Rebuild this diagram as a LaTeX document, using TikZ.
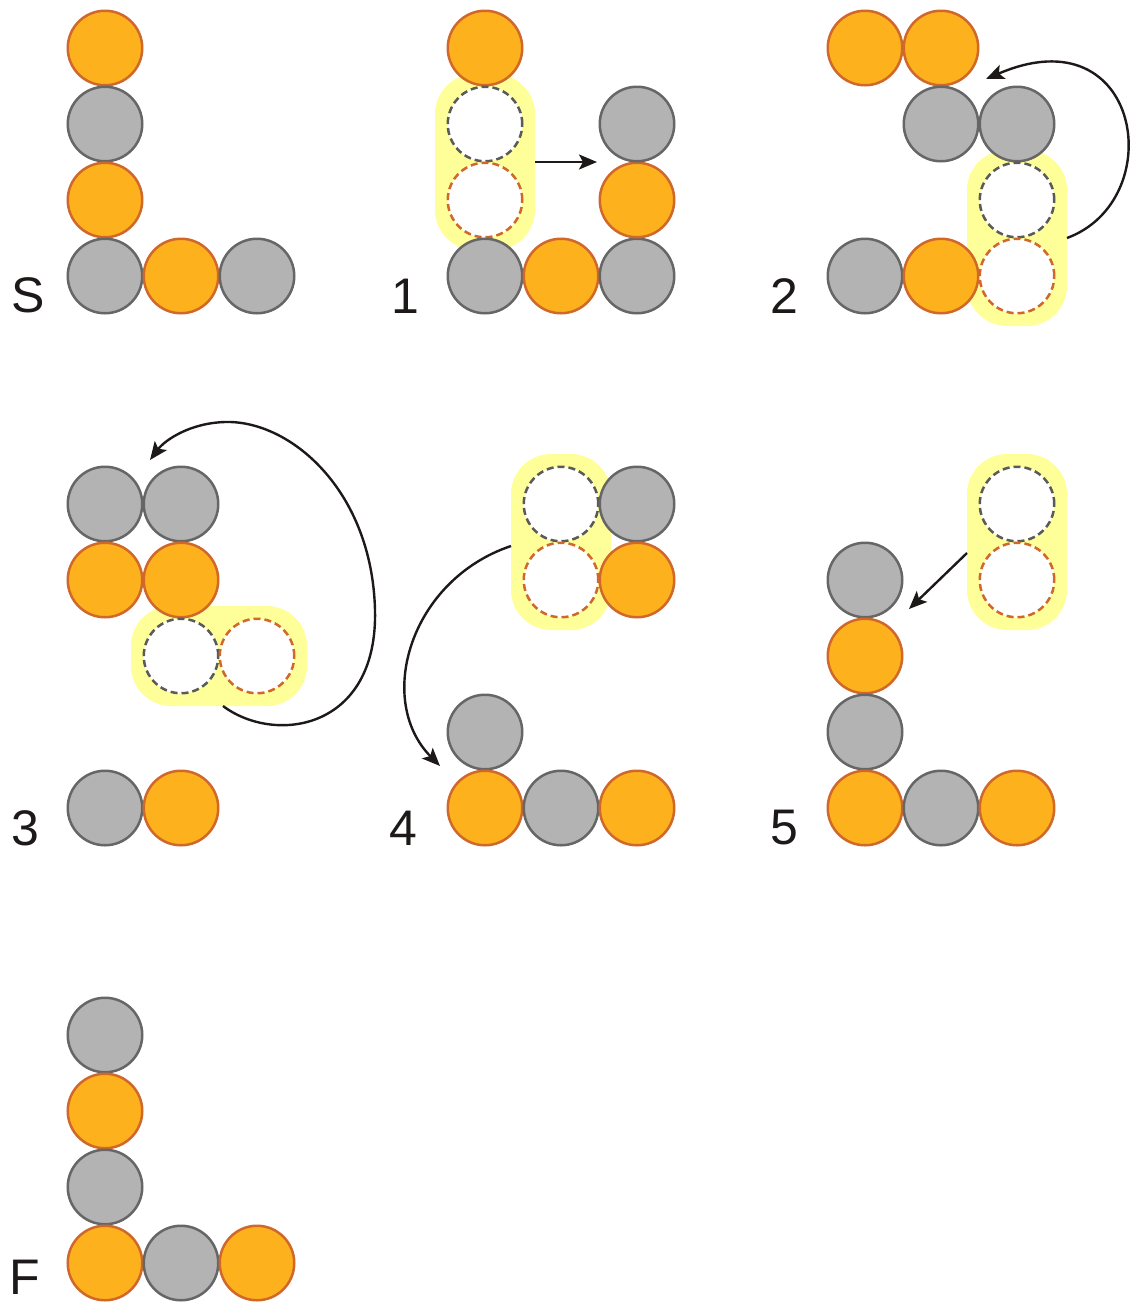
\documentclass[tikz,border=0pt]{standalone}
\usepackage{fontspec}
\setmainfont{Liberation Sans}
\usetikzlibrary{arrows.meta}
\definecolor{orfill}{RGB}{253,177,29}
\definecolor{orline}{RGB}{207,104,42}
\definecolor{gyfill}{RGB}{179,179,179}
\definecolor{gyline}{RGB}{102,102,102}
\definecolor{dgline}{RGB}{90,90,90}
\definecolor{hly}{RGB}{255,255,153}
\definecolor{ink}{RGB}{30,25,25}
\begin{document}
\begin{tikzpicture}[x=1pt,y=-1pt,
  ball/.style={circle, minimum size=74.5pt, inner sep=0pt, outer sep=0pt, line width=2.5pt},
  og/.style={ball, fill=orfill, draw=orline},
  gy/.style={ball, fill=gyfill, draw=gyline},
  gyd/.style={ball, fill=white, draw=dgline, dash pattern=on 7pt off 4pt},
  ogd/.style={ball, fill=white, draw=orline, dash pattern=on 7pt off 4pt},
  hl/.style={rectangle, fill=hly, rounded corners=40pt, inner sep=0pt, outer sep=0pt},
  hlv/.style={hl, minimum width=100pt, minimum height=176pt},
  hlh/.style={hl, minimum width=176pt, minimum height=100pt},
  arr/.style={-{Stealth[length=18pt,width=15pt,inset=4pt]}, line width=2.4pt, draw=ink},
  lbl/.style={font=\fontsize{50}{60}\selectfont, inner sep=0pt, text=ink}]
\useasboundingbox (0,0) rectangle (1134,1302);

% ---------- highlights ----------
\node[hlv] (h1) at (485,162) {};
\node[hlv] (h2) at (1017,238) {};
\node[hlh] (h3) at (219,656) {};
\node[hlv] (h4) at (561,542) {};
\node[hlv] (h5) at (1017,542) {};

% ---------- panel S ----------
\node[lbl] (lS) at (28,295) {S};
\node[og] (s1) at (105,48) {};
\node[gy] (s2) at (105,124) {};
\node[og] (s3) at (105,200) {};
\node[gy] (s4) at (105,276) {};
\node[og] (s5) at (181,276) {};
\node[gy] (s6) at (257,276) {};

% ---------- panel 1 ----------
\node[lbl] (l1) at (405,296) {1};
\node[og] (a1) at (485,48) {};
\node[gyd] (a2) at (485,124) {};
\node[ogd] (a3) at (485,200) {};
\node[gy] (a4) at (485,276) {};
\node[og] (a5) at (561,276) {};
\node[gy] (a6) at (637,276) {};
\node[og] (a7) at (637,200) {};
\node[gy] (a8) at (637,124) {};
\coordinate (e1) at (597,162);
\draw[arr] (h1.east |- e1) -- (e1);

% ---------- panel 2 ----------
\node[lbl] (l2) at (784,296) {2};
\node[og] (b1) at (865,48) {};
\node[og] (b2) at (941,48) {};
\node[gy] (b3) at (941,124) {};
\node[gy] (b4) at (1017,124) {};
\node[gyd] (b5) at (1017,200) {};
\node[ogd] (b6) at (1017,276) {};
\node[gy] (b7) at (865,276) {};
\node[og] (b8) at (941,276) {};
\coordinate (e2) at (986,79);
\draw[arr] (h2.east) .. controls (1170,200) and (1142,12) .. (e2);

% ---------- panel 3 ----------
\node[lbl] (l3) at (25,828) {3};
\node[gy] (c1) at (105,504) {};
\node[gy] (c2) at (181,504) {};
\node[og] (c3) at (105,580) {};
\node[og] (c4) at (181,580) {};
\node[gyd] (c5) at (181,656) {};
\node[ogd] (c6) at (257,656) {};
\node[gy] (c7) at (105,808) {};
\node[og] (c8) at (181,808) {};
\coordinate (e3) at (150,460);
\draw[arr] ([xshift=4pt]h3.south) .. controls (275,745) and (378,730) .. (375,610)
  .. controls (372,490) and (290,420) .. (225,422)
  .. controls (190,423) and (165,440) .. (e3);

% ---------- panel 4 ----------
\node[lbl] (l4) at (403,828) {4};
\node[gyd] (d1) at (561,504) {};
\node[ogd] (d2) at (561,580) {};
\node[gy] (d3) at (637,504) {};
\node[og] (d4) at (637,580) {};
\node[gy] (d5) at (485,732) {};
\node[og] (d6) at (485,808) {};
\node[gy] (d7) at (561,808) {};
\node[og] (d8) at (637,808) {};
\coordinate (e4) at (440,766);
\draw[arr] ([yshift=-4pt]h4.west) .. controls (410,580) and (375,700) .. (e4);

% ---------- panel 5 ----------
\node[lbl] (l5) at (784,828) {5};
\node[gyd] (f1) at (1017,504) {};
\node[ogd] (f2) at (1017,580) {};
\node[gy] (f3) at (865,580) {};
\node[og] (f4) at (865,656) {};
\node[gy] (f5) at (865,732) {};
\node[og] (f6) at (865,808) {};
\node[gy] (f7) at (941,808) {};
\node[og] (f8) at (1017,808) {};
\coordinate (e5) at (909,609);
\draw[arr] ([yshift=-11pt]h5.west) -- (e5);

% ---------- panel F ----------
\node[lbl] (lF) at (25,1277) {F};
\node[gy] (g1) at (105,1035) {};
\node[og] (g2) at (105,1111) {};
\node[gy] (g3) at (105,1187) {};
\node[og] (g4) at (105,1263) {};
\node[gy] (g5) at (181,1263) {};
\node[og] (g6) at (257,1263) {};
\end{tikzpicture}
\end{document}
